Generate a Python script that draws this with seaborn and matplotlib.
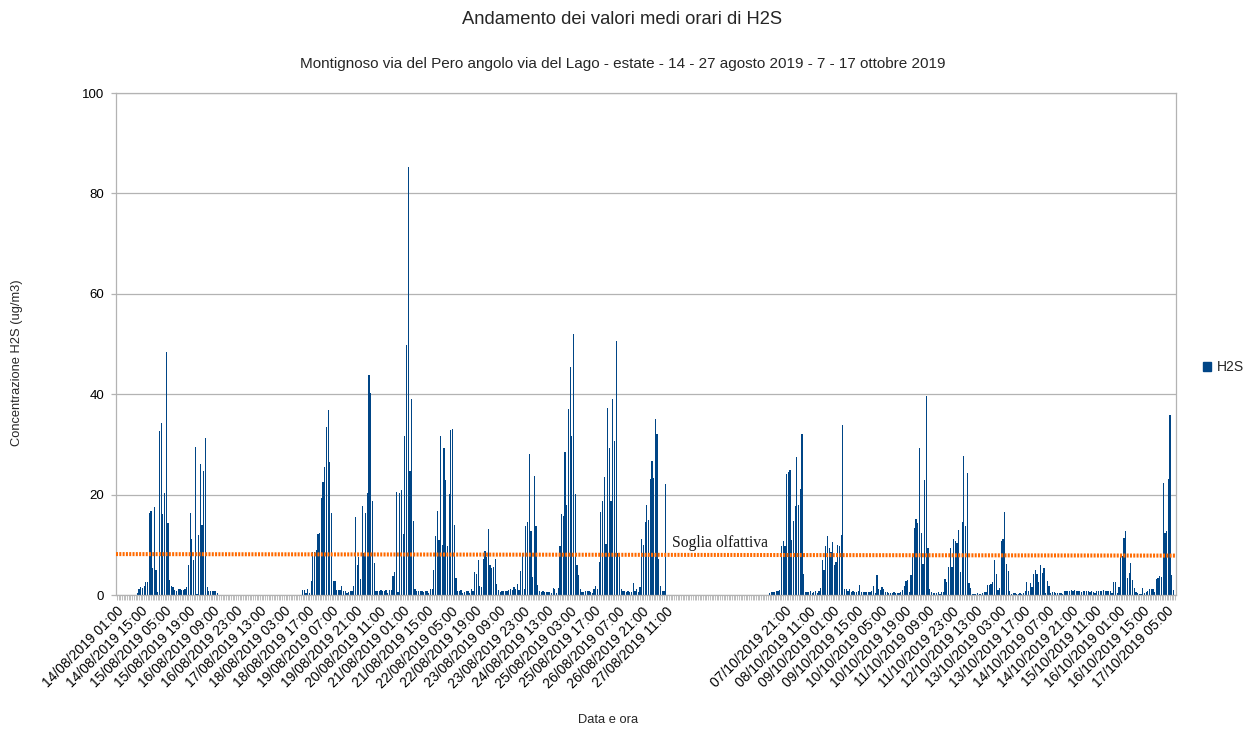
import numpy as np
import pandas as pd
import matplotlib
matplotlib.use("Agg")
import matplotlib.pyplot as plt
import seaborn as sns
from matplotlib.patches import Patch

# ---------------- data ----------------
titolo = "Andamento dei valori medi orari di H2S"
sottotitolo = ("Montignoso via del Pero angolo via del Lago - estate - 14 - 27 agosto 2019 "
               "- 7 - 17 ottobre 2019")
etichetta_y = "Concentrazione H2S (ug/m3)"
etichetta_x = "Data e ora"
serie_nome = "H2S"
soglia_nome = "Soglia olfattiva"
soglia = [8.15, 7.85]          # livello soglia olfattiva (inizio, fine)

inizio_estate = "2019-08-14 01:00"
ore_estate = 323
righe_vuote = 60
inizio_autunno = "2019-10-07 12:00"
ore_autunno = 239
passo_etichette = 14

h2s_14ago = [0.3, 1.1, 1.5, 1.3, 1.8, 2.5, 2.6, 16.3, 16.8, 5.3,
             17.5, 4.9, 0.5, 32.7, 34.3, 16.1, 20.4, 48.4, 14.3, 2.9,
             1.7, 1.5, 0.9, 0.8, 1.1, 1.1, 0.9, 1.0, 1.1, 1.5,
             5.9, 16.3, 11.1, 7.0, 29.4, 0.1, 12.0, 26.0, 13.9, 24.8,
             31.3, 1.5, 0.7, 0.7, 0.7, 0.7, 0.7, 0.3, 0.0]
h2s_18ago = [0.9, 0.9, 0.3, 1.1, 0.3, 2.7, 8.5, 8.5, 8.9, 12.1,
             12.3, 19.3, 22.6, 25.4, 33.5, 36.8, 26.4, 16.3, 2.7, 2.7,
             0.9, 0.9, 0.9, 1.7, 0.8, 0.8, 0.3, 0.5, 0.7, 0.8,
             1.7, 15.5, 5.9, 7.5, 3.1, 17.7, 8.3, 16.3, 20.3, 43.8,
             40.2, 18.7, 6.3, 0.7, 0.7, 0.7, 0.9, 0.7, 0.7, 0.9]
h2s_20ago = [0.3, 0.9, 0.9, 3.8, 4.5, 20.6, 0.5, 20.4, 21.0, 12.1,
             31.7, 49.8, 85.3, 24.8, 39.0, 14.7, 1.1, 0.7, 0.7, 0.7,
             0.7, 0.5, 0.7, 0.7, 0.3, 1.1, 1.1, 4.9, 11.7, 16.7,
             10.9, 31.7, 9.9, 29.2, 22.9, 9.7, 20.1, 32.9, 33.1, 13.9,
             3.3, 0.7, 0.7, 0.9, 0.3, 0.5, 0.8, 0.8, 0.3, 1.1,
             0.7, 4.5, 4.1, 6.9, 1.7, 1.5, 7.1, 8.7, 7.5, 13.2,
             5.9, 5.3, 5.5, 7.1, 2.1, 0.9, 0.5, 0.8, 0.8, 0.8,
             0.8, 0.9, 1.1, 0.9, 1.5, 1.1, 2.1, 0.9]
h2s_23ago = [4.7, 8.3, 1.1, 13.7, 14.5, 28.0, 12.8, 3.5, 23.8, 13.7,
             1.9, 0.7, 0.5, 0.7, 0.5, 0.5, 0.5, 0.5, 0.3, 1.3,
             1.1, 0.3, 1.3, 9.7, 16.1, 15.7, 28.5, 17.9, 37.0, 45.4,
             31.7, 52.0, 20.1, 5.9, 3.9, 1.1, 0.5, 0.5, 0.7, 0.7,
             0.7, 0.5, 0.3, 1.1, 1.7, 1.1, 6.5, 16.5, 18.7, 23.6,
             10.1, 37.2, 29.3, 18.7, 39.0, 30.7, 50.5, 8.3, 8.3, 1.1,
             0.7, 0.7, 0.5, 0.7, 0.5, 0.5, 2.3, 0.7, 1.1, 0.5,
             1.5, 11.1, 9.9, 14.5, 17.9, 14.9, 23.1, 26.7, 23.3, 35.1,
             32.1, 7.1, 1.7, 0.7, 0.7, 22.2]
h2s_07ott = [0.3, 0.5, 0.5, 0.5, 0.7, 0.8, 1.0, 9.7, 10.7, 9.7,
             24.1, 24.5, 24.9, 10.9, 14.7, 17.7, 27.5, 17.9, 21.1, 32.1,
             4.1, 0.5, 0.5, 0.5, 0.7, 0.3, 0.5, 0.7, 0.3, 0.8,
             1.3, 6.9, 4.9, 9.7, 11.7, 9.3, 8.5, 10.5, 5.9, 6.5,
             9.9, 9.7, 11.9, 33.9, 1.1, 1.1, 0.7, 1.1, 0.5, 0.7,
             0.5, 0.5, 0.7, 1.9, 0.5, 0.5, 0.5, 0.5, 0.5, 0.5,
             0.7, 1.7, 0.3, 3.9, 1.1, 0.9, 1.5, 1.1, 0.5, 0.5,
             0.3, 0.3, 0.3, 0.5, 0.3, 0.3, 0.3, 0.5, 0.9, 1.7,
             2.7, 2.9, 0.5]
h2s_10ott = [3.9, 7.7, 13.3, 15.1, 14.3, 29.3, 12.3, 6.1, 22.9, 39.6,
             9.3, 1.1, 0.5, 0.3, 0.3, 0.3, 0.5, 0.1, 0.5, 0.5,
             3.1, 2.5, 5.5, 9.3, 5.5, 11.1, 10.7, 10.3, 12.9, 4.5,
             14.5, 27.7, 13.7, 24.3, 2.3, 1.3, 0.1, 0.1, 0.1, 0.3,
             0.1, 0.1, 0.3, 0.5, 0.5, 1.9, 1.9, 2.1, 2.5, 6.9,
             4.1, 0.9, 1.3, 10.7, 11.1, 16.5, 6.1, 4.7, 0.7, 0.1,
             0.3, 0.3, 0.1, 0.1, 0.3, 0.1, 0.3, 0.7, 2.5, 0.7,
             2.3, 1.5, 4.1, 4.9, 4.1, 2.5, 5.9, 4.3, 5.3]
h2s_14ott = [0.3, 2.7, 1.7, 0.3, 0.5, 0.5, 0.3, 0.3, 0.3, 0.3,
             0.1, 0.7, 0.7, 0.7, 0.7, 0.9, 0.8, 0.9, 0.7, 0.7,
             0.7, 0.5, 0.7, 0.8, 0.8, 0.8, 0.5, 0.7, 0.5, 0.3,
             0.7, 0.7, 0.7, 0.7, 0.9, 0.7, 0.7, 0.7, 0.7, 0.3,
             2.6, 2.6, 0.3, 1.5, 7.7, 7.7, 11.3, 12.7, 3.3, 4.3,
             6.3, 2.9, 1.3, 0.5, 0.3, 0.1, 0.1, 1.3, 0.3, 0.5,
             0.7, 1.1, 1.1, 1.1, 0.5, 3.1, 3.3, 3.7, 3.5, 22.4,
             12.3, 12.7, 23.1, 35.8, 4.0, 0.9, 0.0]

segmenti = [("2019-08-14 13:00", h2s_14ago),
            ("2019-08-18 14:00", h2s_18ago),
            ("2019-08-20 16:00", h2s_20ago),
            ("2019-08-23 22:00", h2s_23ago),
            ("2019-10-07 12:00", h2s_07ott),
            ("2019-10-10 23:00", h2s_10ott),
            ("2019-10-14 06:00", h2s_14ott)]

# ---------------- build table ----------------
valori = {}
for inizio, arr in segmenti:
    t0 = pd.Timestamp(inizio)
    for k, v in enumerate(arr):
        valori[t0 + pd.Timedelta(hours=k)] = v

t1 = pd.date_range(inizio_estate, periods=ore_estate, freq="h")
t2 = pd.date_range(inizio_autunno, periods=ore_autunno, freq="h")
etichette = (list(t1.strftime("%d/%m/%Y %H:%M")) + [""] * righe_vuote
             + list(t2.strftime("%d/%m/%Y %H:%M")))
conc = ([valori.get(t, np.nan) for t in t1] + [np.nan] * righe_vuote
        + [valori.get(t, np.nan) for t in t2])
n = len(etichette)
df = pd.DataFrame({"pos": np.arange(n), "etichetta": etichette, "valore": conc})

# ---------------- plot ----------------
sns.set_theme(style="white")
plt.rcParams["font.family"] = ["Liberation Sans", "DejaVu Sans"]

W, H = 1245, 729
fig = plt.figure(figsize=(W / 100, H / 100), dpi=100)
ax = fig.add_axes([116 / W, 1 - 595 / H, 1060 / W, 502 / H])

blu = "#004586"
sns.barplot(data=df.dropna(), x="pos", y="valore", order=list(range(n)),
            color=blu, saturation=1, width=0.72, errorbar=None,
            linewidth=0, ax=ax)

ax.set_xlim(-0.5, n - 0.5)
ax.set_ylim(0, 100)
ax.set_yticks(np.arange(0, 101, 20))
ax.yaxis.grid(True, color="#b3b3b3", lw=0.9)
ax.xaxis.grid(False)
ax.set_axisbelow(True)
ax.set_xlabel("")
ax.set_ylabel("")

ax.set_xticks(np.arange(n))
ax.set_xticklabels([lab if i % passo_etichette == 0 else "" for i, lab in enumerate(etichette)],
                   rotation=45, ha="right", rotation_mode="anchor", fontsize=10)
ax.tick_params(axis="x", length=3.6, width=0.6, color="#b3b3b3", pad=3,
               labelcolor="black", bottom=True)
ax.tick_params(axis="y", length=3.6, width=0.9, color="#b3b3b3", pad=5,
               labelsize=9.5, labelcolor="black", left=True)
for s in ax.spines.values():
    s.set_color("#b3b3b3")
    s.set_linewidth(0.9)

# soglia olfattiva
ax.plot([-0.5, n - 0.5], soglia, color="#ff6a00", lw=2.9,
        linestyle=(0, (0.5, 0.32)), dash_capstyle="butt", zorder=3)
ax.text(326, 10.4, soglia_nome, family=["Liberation Serif", "DejaVu Serif"],
        fontsize=11.3, va="center", ha="left", color="#1a1a1a", zorder=4)

fig.text(0.5, 1 - 19 / H, titolo, ha="center", va="center", fontsize=13.2)
fig.text(0.5, 1 - 64 / H, sottotitolo, ha="center", va="center", fontsize=11)
fig.text(17 / W, 1 - 363 / H, etichetta_y, rotation=90, ha="center", va="center", fontsize=9.3)
fig.text(608 / W, 1 - 720 / H, etichetta_x, ha="center", va="center", fontsize=9.3)

fig.legend(handles=[Patch(color=blu, label=serie_nome)], loc="center left",
           bbox_to_anchor=(1203 / W, 1 - 367 / H), frameon=False,
           handlelength=0.6, handleheight=0.6, handletextpad=0.4,
           fontsize=10, borderpad=0, borderaxespad=0)

fig.savefig("out.png", dpi=100)
